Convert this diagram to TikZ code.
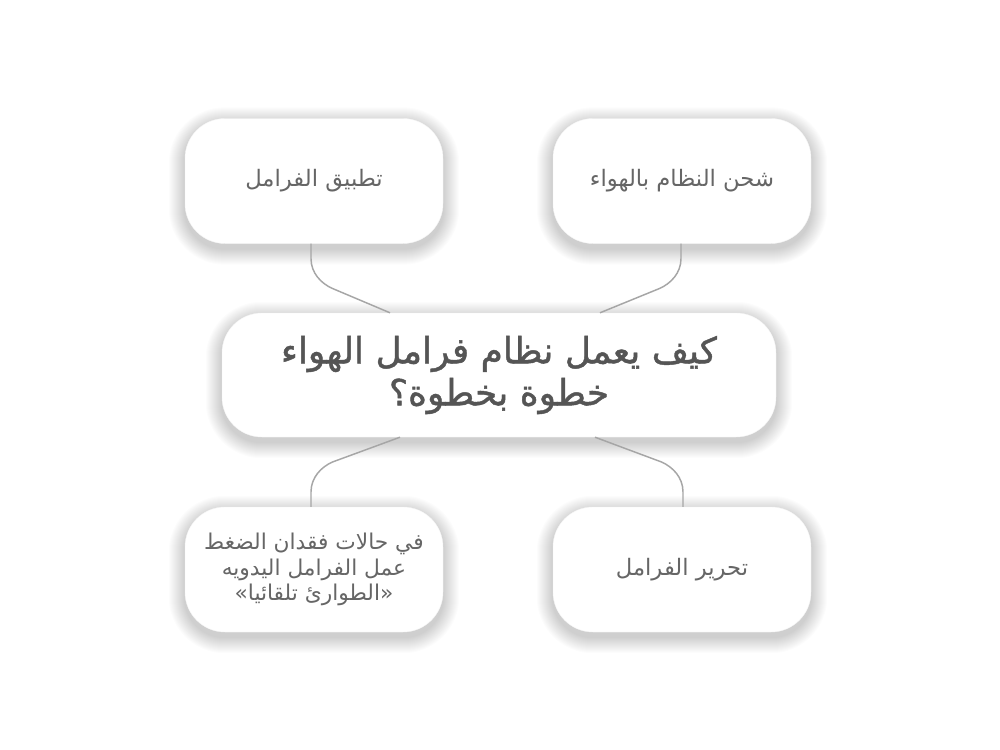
\documentclass[tikz,border=0pt]{standalone}
\usepackage{fontspec}
\newfontfamily\arabicfont[Script=Arabic]{DejaVu Sans}
\newfontfamily\titlefont[Script=Arabic,FakeBold=1.2]{DejaVu Sans}
\TeXXeTstate=1
\usetikzlibrary{calc}
\pgfdeclarelayer{bg0}
\pgfdeclarelayer{background}
\pgfsetlayers{bg0,background,main}
\definecolor{txt}{HTML}{666666}
\definecolor{ttl}{HTML}{555555}
\definecolor{connc}{HTML}{A6A6A6}
\begin{document}
\begin{tikzpicture}[x=0.75pt,y=-0.75pt,
  box/.style={fill=white, draw=black!4, line width=0.3pt, rounded corners=30pt,
    minimum width=193.5pt, minimum height=93.75pt, align=center, text=txt,
    inner sep=0pt, font=\arabicfont\fontsize{17}{19.5}\selectfont},
  smallbox/.style={box, font=\arabicfont\fontsize{16.3}{19}\selectfont},
  titlebox/.style={box, minimum width=415.5pt, minimum height=93pt, text=ttl,
    font=\titlefont\fontsize{27}{31.5}\selectfont},
  conn/.style={draw=connc, line width=1.1pt}]
\begin{pgfonlayer}{bg0}
\fill[white] (0,0) rectangle (1000,750);
\end{pgfonlayer}
\useasboundingbox (0,0) rectangle (1000,750);

\node[box] (tl) at (314,181) {\beginR تطبيق الفرامل\endR};
\node[box] (tr) at (682,181) {\beginR شحن النظام بالهواء\endR};
\node[titlebox] (c) at (499,375) {\beginR كيف يعمل نظام فرامل الهواء\endR\\\beginR خطوة بخطوة؟\endR};
\node[smallbox] (bl) at (314,569.5) {\beginR في حالات فقدان الضغط\endR\\\beginR عمل الفرامل اليدويه\endR\\\beginR\hbox{«}الطوارئ تلقائيا\hbox{»}\endR};
\node[box] (br) at (682,569.5) {\beginR تحرير الفرامل\endR};

\begin{pgfonlayer}{background}
\foreach \n in {tl,tr,c,bl,br}{
  \foreach \k in {1,...,16}{
    \pgfmathsetmacro\rr{30+0.75*\k}
    \fill[black, opacity=0.012, rounded corners=\rr pt]
      ($(\n.south west)+(-\k,\k+5)$) rectangle ($(\n.north east)+(\k,-\k+5)$);
  }
}
\end{pgfonlayer}

\draw[conn] ($(tl.south)+(-3,0)$) -- ($(tl.south)+(-3,15)$)
  .. controls ($(tl.south)+(-3,29)$) and ($(tl.south)+(7,40)$) .. ($(tl.south)+(19,45)$)
  -- ($(c.north)+(-109,0)$);
\draw[conn] ($(tr.south)+(-1,0)$) -- ($(tr.south)+(-1,15)$)
  .. controls ($(tr.south)+(-1,29)$) and ($(tr.south)+(-11,40)$) .. ($(tr.south)+(-23,45)$)
  -- ($(c.north)+(101,0)$);
\draw[conn] ($(c.south)+(-99,0)$) -- ($(bl.north)+(19,-45)$)
  .. controls ($(bl.north)+(7,-40)$) and ($(bl.north)+(-3,-29)$) .. ($(bl.north)+(-3,-15)$)
  -- ($(bl.north)+(-3,0)$);
\draw[conn] ($(c.south)+(96,0)$) -- ($(br.north)+(-21,-45)$)
  .. controls ($(br.north)+(-9,-40)$) and ($(br.north)+(1,-29)$) .. ($(br.north)+(1,-15)$)
  -- ($(br.north)+(1,0)$);
\end{tikzpicture}
\end{document}
